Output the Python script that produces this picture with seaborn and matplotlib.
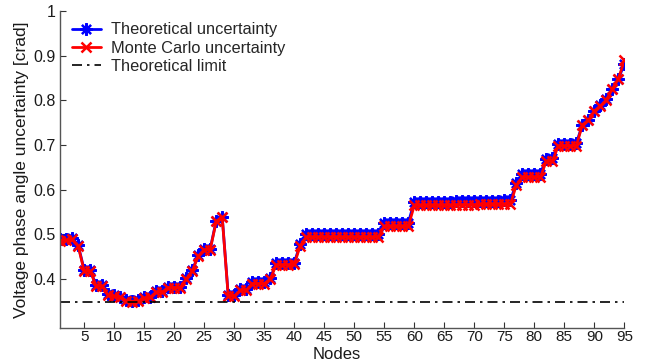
import numpy as np
import pandas as pd
import matplotlib
matplotlib.use("Agg")
import matplotlib.pyplot as plt
import seaborn as sns

nodes = list(range(1, 96))

theoretical = [
    0.489, 0.489, 0.491, 0.476, 0.421, 0.420, 0.387, 0.386, 0.366, 0.364,
    0.361, 0.354, 0.352, 0.353, 0.359, 0.361, 0.373, 0.373, 0.383, 0.383,
    0.383, 0.402, 0.420, 0.453, 0.468, 0.468, 0.531, 0.540, 0.364, 0.364,
    0.377, 0.377, 0.393, 0.393, 0.393, 0.402, 0.436, 0.436, 0.436, 0.437,
    0.478, 0.502, 0.502, 0.502, 0.502, 0.502, 0.502, 0.502, 0.502, 0.502,
    0.502, 0.502, 0.502, 0.502, 0.526, 0.526, 0.526, 0.526, 0.526, 0.573,
    0.573, 0.573, 0.573, 0.573, 0.573, 0.573, 0.574, 0.574, 0.574, 0.574,
    0.575, 0.575, 0.575, 0.575, 0.576, 0.576, 0.614, 0.636, 0.636, 0.636,
    0.636, 0.669, 0.670, 0.703, 0.703, 0.703, 0.704, 0.745, 0.757, 0.777,
    0.789, 0.803, 0.826, 0.848, 0.881,
]

monte_carlo = [
    0.486, 0.487, 0.489, 0.474, 0.418, 0.418, 0.385, 0.384, 0.364, 0.362,
    0.359, 0.352, 0.350, 0.351, 0.357, 0.359, 0.371, 0.371, 0.381, 0.381,
    0.381, 0.400, 0.418, 0.451, 0.466, 0.466, 0.529, 0.538, 0.362, 0.362,
    0.375, 0.375, 0.390, 0.390, 0.390, 0.400, 0.432, 0.432, 0.432, 0.433,
    0.475, 0.494, 0.494, 0.494, 0.494, 0.494, 0.494, 0.494, 0.494, 0.494,
    0.494, 0.494, 0.494, 0.494, 0.518, 0.518, 0.518, 0.518, 0.518, 0.565,
    0.565, 0.565, 0.565, 0.565, 0.565, 0.565, 0.566, 0.566, 0.566, 0.566,
    0.567, 0.567, 0.567, 0.567, 0.567, 0.567, 0.610, 0.628, 0.628, 0.628,
    0.628, 0.664, 0.664, 0.698, 0.698, 0.698, 0.698, 0.745, 0.755, 0.776,
    0.787, 0.801, 0.825, 0.848, 0.889,
]

theoretical_limit = 0.35

xticks = [5, 10, 15, 20, 25, 30, 35, 40, 45, 50, 55, 60, 65, 70, 75, 80, 85, 90, 95]
yticks = [0.4, 0.5, 0.6, 0.7, 0.8, 0.9, 1.0]
ytick_labels = ["0.4", "0.5", "0.6", "0.7", "0.8", "0.9", "1"]

sns.set_style("ticks")
plt.rcParams["font.family"] = ["Liberation Sans", "DejaVu Sans"]

fig = plt.figure(figsize=(6.47, 3.62), dpi=100)
ax = fig.add_axes([0.093, 0.093, 0.872, 0.877])

df = pd.DataFrame({"node": nodes, "theo": theoretical, "mc": monte_carlo})

sns.lineplot(data=df, x="node", y="theo", ax=ax, color="#0000ff", lw=2,
             marker=(8, 2, 0), markersize=9, markeredgewidth=1.6,
             markeredgecolor="#0000ff", markerfacecolor="#0000ff",
             label="Theoretical uncertainty")
sns.lineplot(data=df, x="node", y="mc", ax=ax, color="#ff0000", lw=2,
             marker="x", markersize=6.5, markeredgewidth=1.8,
             markeredgecolor="#ff0000", label="Monte Carlo uncertainty")
ax.axhline(theoretical_limit, color="black", lw=1.2, ls="-.",
           dashes=(6, 3, 1.5, 3), label="Theoretical limit")

ax.set_xlim(1, 95)
ax.set_ylim(0.29, 1.0)
ax.set_xticks(xticks)
ax.set_xticklabels([str(t) for t in xticks])
ax.set_yticks(yticks)
ax.set_yticklabels(ytick_labels)
ax.tick_params(direction="in", length=4, width=0.8, labelsize=11.5,
               colors="#333333", labelcolor="#1a1a1a")
ax.tick_params(axis="x", pad=1, labelsize=11)
ax.tick_params(axis="y", pad=3)
for s in ["top", "right"]:
    ax.spines[s].set_visible(False)
for s in ["left", "bottom"]:
    ax.spines[s].set_color("#555555")
    ax.spines[s].set_linewidth(1.0)

ax.set_xlabel("Nodes", fontsize=12, color="#1a1a1a")
ax.xaxis.label.set_verticalalignment("baseline")
ax.xaxis.set_label_coords(0.49, -0.097)
ax.set_ylabel("Voltage phase angle uncertainty [crad]", fontsize=12.5,
              labelpad=3, color="#1a1a1a")

ax.legend(loc="upper left", bbox_to_anchor=(0.0, 1.0), frameon=False,
          fontsize=11.8, handlelength=1.8, borderaxespad=0.3,
          labelspacing=0.2, handletextpad=0.6)

fig.savefig("out.png", dpi=100)
